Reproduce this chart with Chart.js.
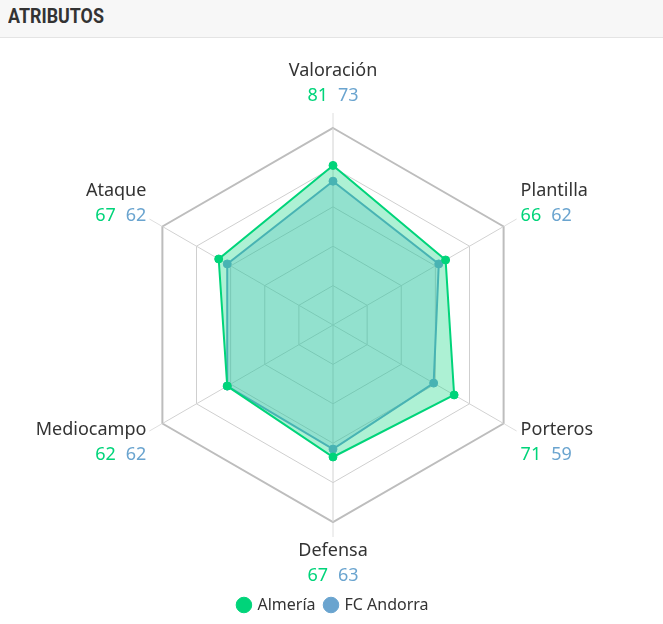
<!DOCTYPE html>
<html>
<head>
<meta charset="utf-8">
<script src="https://cdn.jsdelivr.net/npm/chart.js@4.4.1/dist/chart.umd.min.js"></script>
<style>
  body { margin: 0; background: #fff; font-family: "Noto Sans", sans-serif; }
  .head {
    height: 38px; background: #f7f7f7; border-bottom: 1px solid #e4e4e4;
    font-family: "Roboto", sans-serif; font-weight: bold;
    font-size: 21px; color: #333; line-height: 33px; padding-left: 8px; box-sizing: border-box;
  }
  .head span { display: inline-block; transform: scaleX(0.85); transform-origin: left center; }
  #wrap { position: relative; width: 663px; height: 585px; }
</style>
</head>
<body>
<div class="head"><span>ATRIBUTOS</span></div>
<div id="wrap"><canvas id="mycanvas"></canvas></div>
<script>
var labels = ["Valoración", "Plantilla", "Porteros", "Defensa", "Mediocampo", "Ataque"];
var almeria = [81, 66, 71, 67, 62, 67];
var andorra = [73, 62, 59, 63, 62, 62];
var teamNames = ["Almería", "FC Andorra"];
var green = "#00d47a";
var blue = "#6aa4cf";

// etiquetas en dos lineas: nombre + valores de cada equipo
var labelPlugin = {
	id: "twoLineLabels",
	beforeDatasetsDraw: function(chart) {
		var scale = chart.scales.r;
		var ctx = chart.ctx;
		var R = scale.drawingArea;
		ctx.save();
		ctx.strokeStyle = "#dedede";
		ctx.lineWidth = 1;
		for (var i = 0; i < labels.length; i++) {
			var a = scale.getPointPosition(i, R + 1);
			var b = scale.getPointPosition(i, R + 15);
			ctx.beginPath();
			ctx.moveTo(a.x, a.y);
			ctx.lineTo(b.x, b.y);
			ctx.stroke();
		}
		ctx.restore();
	},
	afterDraw: function(chart) {
		var scale = chart.scales.r;
		var ctx = chart.ctx;
		var R = scale.drawingArea;
		ctx.save();
		ctx.textBaseline = "middle";
		for (var i = 0; i < labels.length; i++) {
			var p = scale.getPointPosition(i, R);
			var c = Math.cos(p.angle), s = Math.sin(p.angle);
			var align, x = p.x, y1, y2;
			if (Math.abs(c) < 0.01) {
				align = "center";
				if (s < 0) { y1 = p.y - 57; y2 = p.y - 32; }
				else { y1 = p.y + 29; y2 = p.y + 54; }
			} else {
				align = c > 0 ? "left" : "right";
				x = c > 0 ? p.x + 17 : p.x - 16;
				if (s < 0) { y1 = p.y - 36; y2 = p.y - 11; }
				else { y1 = p.y + 6; y2 = p.y + 31; }
			}
			ctx.font = "18px 'Noto Sans'";
			ctx.fillStyle = "#333";
			ctx.textAlign = align;
			ctx.fillText(labels[i], x, y1);

			var t1 = String(almeria[i]), t2 = String(andorra[i]);
			var w1 = ctx.measureText(t1).width, w2 = ctx.measureText(t2).width;
			var gap = 10;
			var total = w1 + gap + w2;
			var start = align == "center" ? x - total / 2 : (align == "left" ? x : x - total);
			ctx.textAlign = "left";
			ctx.fillStyle = green;
			ctx.fillText(t1, start, y2);
			ctx.fillStyle = blue;
			ctx.fillText(t2, start + w1 + gap, y2);
		}
		ctx.restore();
	}
};

var chartdata = {
	labels: labels,
	datasets: [
		{
			label: teamNames[0],
			data: almeria,
			borderColor: green,
			backgroundColor: "rgba(0, 212, 122, 0.32)",
			pointBackgroundColor: green,
			pointBorderColor: green,
			borderWidth: 2,
			pointRadius: 4,
			pointBorderWidth: 1,
			fill: true
		},
		{
			label: teamNames[1],
			data: andorra,
			borderColor: blue,
			backgroundColor: "rgba(100, 165, 220, 0.25)",
			pointBackgroundColor: blue,
			pointBorderColor: blue,
			borderWidth: 2,
			pointRadius: 4,
			pointBorderWidth: 1,
			fill: true
		}
	]
};

var ctx = document.getElementById("mycanvas");
var radar = new Chart(ctx, {
	type: "radar",
	data: chartdata,
	plugins: [labelPlugin],
	options: {
		responsive: true,
		maintainAspectRatio: false,
		animation: false,
		layout: { padding: { top: 90, bottom: 0, left: 4, right: 0 } },
		plugins: {
			tooltip: { enabled: false },
			legend: {
				position: "bottom",
				// titulo vacio solo para dejar hueco sobre la leyenda
				title: { display: true, text: "", font: { size: 1 }, padding: { top: 62, bottom: 0 } },
				labels: {
					usePointStyle: true,
					pointStyle: "circle",
					boxWidth: 11,
					boxHeight: 11,
					color: "#333",
					font: { family: "'Noto Sans'", size: 16 }
				}
			}
		},
		scales: {
			r: {
				min: 0,
				max: 100,
				ticks: { display: false, stepSize: 20 },
				pointLabels: { display: false },
				angleLines: { color: "#d2d2d2", lineWidth: 1 },
				grid: {
					color: function(c) { return c.tick && c.tick.value == 100 ? "#bdbdbd" : "#cfcfcf"; },
					lineWidth: function(c) { return c.tick && c.tick.value == 100 ? 2 : 1; }
				}
			}
		}
	}
});
</script>
</body>
</html>
